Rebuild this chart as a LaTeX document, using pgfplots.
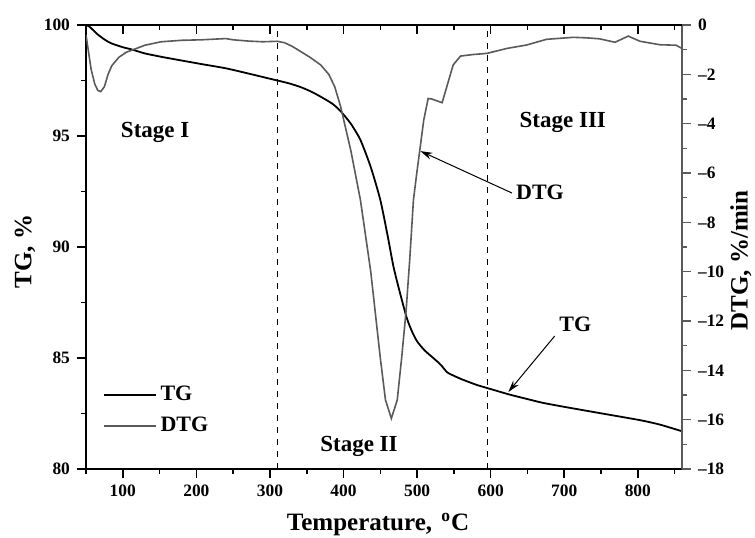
\documentclass[border=0pt]{standalone}
\usepackage{fontspec}
\setmainfont{Liberation Serif}
\usepackage{pgfplots}
\pgfplotsset{compat=1.18}
\usetikzlibrary{arrows.meta}

\definecolor{dtggray}{HTML}{5A5A5A}

\pgfplotsset{
  tgframe/.style={
    scale only axis, width=298pt, height=222pt,
    at={(43pt,34pt)}, anchor=south west,
    xmin=50, xmax=860,
    /pgf/number format/assume math mode=true,
    tick label style={font=\bfseries\fontsize{8.7}{10}\selectfont},
    label style={font=\bfseries\fontsize{12.5}{14}\selectfont},
  },
}

\begin{document}
\begin{tikzpicture}
\useasboundingbox (0,0) rectangle (377.5pt,268.5pt);

% TG (left axis) with frame, dashed stage borders, annotations
\begin{axis}[tgframe,
  ymin=80, ymax=100,
  xtick={100,200,...,800}, minor xtick={50,150,...,850},
  ytick={80,85,...,100}, minor ytick={82.5,87.5,92.5,97.5},
  xtick pos=bottom, ytick pos=left,
  tick align=outside,
  major tick length=4.5pt, minor tick length=2.5pt,
  every tick/.style={black, line width=0.8pt},
  axis line style={line width=0.9pt},
  xlabel={Temperature, \textsuperscript{\,o}C},
  ylabel={TG, \%},
  xlabel style={at={(axis description cs:0.49,0)}, anchor=base, yshift=-30.5pt},
  ylabel style={at={(axis description cs:-0.1023,0.49)}, anchor=center},
  legend style={at={(axis cs:64,84.1)}, anchor=north west, draw=none, fill=none,
    font=\bfseries\fontsize{11}{13}\selectfont, row sep=2.5pt,
    /tikz/every even column/.append style={column sep=3pt}},
  legend cell align=left,
  legend image code/.code={\draw[#1] (0pt,0pt) -- (26pt,0pt);},
]
\addplot[black, line width=0.9pt, smooth, tension=0.4] coordinates {
  (50,100) (55,99.92) (65,99.6) (75,99.35) (84,99.18) (100,99.0) (112,98.9)
  (130,98.72) (152,98.57) (180,98.4) (207,98.24) (240,98.05) (270,97.82)
  (300,97.58) (325,97.38) (342,97.2) (356,97.0) (369,96.77) (385,96.45)
  (396,96.12) (410,95.55) (423,94.82) (437,93.6) (450,92.12) (460,90.5)
  (468,89.1) (477,87.9) (486,86.8) (493,86.2) (500,85.75) (510,85.35)
  (522,85.0) (532,84.7) (541,84.35) (550,84.2) (560,84.05) (580,83.8)
  (595,83.65) (626,83.35) (650,83.15) (671,82.98) (700,82.8) (748,82.52)
  (803,82.2) (830,82.0) (860,81.7)
};
\addlegendentry{TG}
\addlegendimage{dtggray, line width=0.8pt}
\addlegendentry{DTG}

% stage borders
\addplot[black, dashed, line width=0.6pt, forget plot] coordinates {(310,80) (310,100)};
\addplot[black, dashed, line width=0.6pt, forget plot] coordinates {(596,80) (596,100)};

% stage names and curve labels
\node[font=\bfseries\fontsize{11.5}{13}\selectfont] at (axis cs:144,95.14) {Stage I};
\node[font=\bfseries\fontsize{11.5}{13}\selectfont] at (axis cs:421,81.0) {Stage II};
\node[font=\bfseries\fontsize{11.5}{13}\selectfont] at (axis cs:698,95.6) {Stage III};
\node[font=\bfseries\fontsize{11}{13}\selectfont] at (axis cs:667,92.48) {DTG};
\node[font=\bfseries\fontsize{11}{13}\selectfont] at (axis cs:715,86.5) {TG};
\draw[-{Stealth[length=6pt,width=3.5pt]}, line width=0.5pt] (axis cs:629,92.43) -- (axis cs:504.5,94.32);
\draw[-{Stealth[length=6pt,width=3.5pt]}, line width=0.5pt] (axis cs:687,85.99) -- (axis cs:624,83.47);
\end{axis}

% DTG (right axis)
\begin{axis}[tgframe,
  ymin=-18, ymax=0,
  axis x line=none, axis y line*=right,
  ytick={-18,-16,...,0},
  yticklabels={\textendash18,\textendash16,\textendash14,\textendash12,\textendash10,\textendash8,\textendash6,\textendash4,\textendash2,0},
  minor ytick={-17,-15,...,-1},
  tick align=outside,
  major tick length=4.5pt, minor tick length=2.5pt,
  every tick/.style={dtggray, line width=0.8pt},
  axis line style={dtggray, line width=0.9pt},
  ylabel={DTG, \%/min},
  ylabel style={at={(axis description cs:1.099,0.47)}, anchor=center},
]
\addplot[dtggray, line width=0.8pt] coordinates {
  (50,-0.4) (53,-1.0) (57,-1.8) (62,-2.4) (66,-2.65) (70,-2.7) (75,-2.5)
  (80,-2.0) (85,-1.65) (95,-1.3) (105,-1.1) (116,-0.98) (130,-0.82)
  (152,-0.68) (180,-0.62) (207,-0.6) (240,-0.55) (250,-0.6) (270,-0.65)
  (290,-0.68) (310,-0.66) (320,-0.72) (330,-0.86) (342,-1.08) (355,-1.32)
  (369,-1.62) (380,-2.0) (388,-2.5) (396,-3.3) (403,-4.2) (410,-5.1)
  (423,-7.1) (437,-10.0) (450,-13.5) (457,-15.2) (465,-15.95) (473,-15.2)
  (479,-13.5) (485,-11.6) (490,-9.5) (495,-7.1) (500,-5.9) (504,-5.0)
  (509,-3.86) (515,-2.98) (520,-3.0) (534,-3.15) (549,-1.62) (559,-1.26)
  (575,-1.2) (595,-1.15) (622,-0.95) (649,-0.81) (676,-0.58) (712,-0.5)
  (730,-0.52) (748,-0.56) (769,-0.7) (787,-0.45) (803,-0.66) (830,-0.8)
  (852,-0.82) (860,-0.95)
};
\end{axis}

% inward ticks along the top edge
\begin{axis}[tgframe,
  ymin=0, ymax=1,
  axis y line=none, axis x line*=top,
  xtick={100,200,...,800}, minor xtick={50,150,...,850},
  xticklabels={},
  tick align=inside,
  major tick length=4.5pt, minor tick length=2.5pt,
  every tick/.style={black, line width=0.8pt},
  axis line style={line width=0.9pt},
]
\end{axis}
\end{tikzpicture}
\end{document}
